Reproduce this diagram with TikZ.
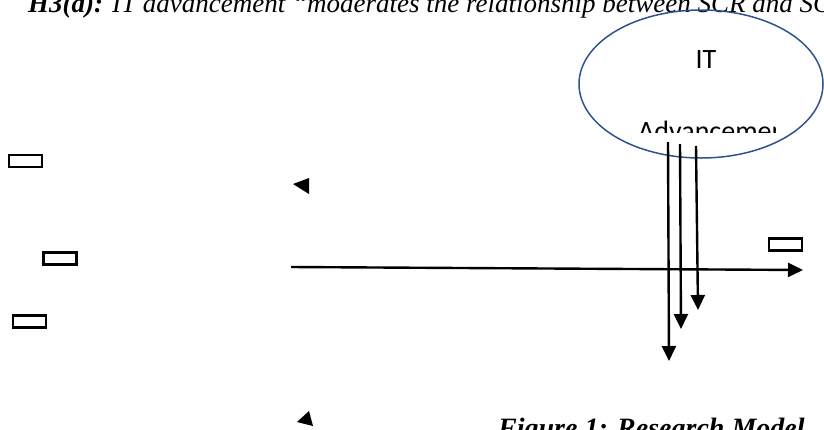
\documentclass[tikz,border=0pt]{standalone}
\usepackage{fontspec}
\setmainfont{Liberation Serif}
\newfontfamily\calib{Carlito}
\usetikzlibrary{arrows.meta,shapes.geometric}
\definecolor{ellblue}{RGB}{47,82,143}
\begin{document}
\begin{tikzpicture}[x=1pt,y=-1pt,
  smallbox/.style={draw=black,line width=2.2pt,minimum width=33pt,minimum height=12pt,inner sep=0pt},
  blk/.style={draw=black,line width=2.4pt,-{Triangle[width=14pt,length=15pt]}},
  lbl/.style={inner sep=0pt,anchor=base west}]
\useasboundingbox (0,0) rectangle (824,429);
\clip (0,0) rectangle (824,429);
% title
\node[lbl,font=\fontsize{27}{30}\selectfont] (title) at (28,12)
  {\textbf{\textit{H3(a):}} \textit{IT advancement “moderates the relationship between SCR and SCP}};
% ellipse
\node[draw=ellblue,line width=1.5pt,ellipse,minimum width=244pt,minimum height=148pt,inner sep=0pt] (it) at (701,84) {};
\node[inner sep=0pt,anchor=base,font=\calib\fontsize{28}{32}\selectfont] (itt) at (706,68) {IT};
\begin{scope}
\clip (630,105) rectangle (775,132);
\node[lbl,font=\calib\fontsize{28}{32}\selectfont] (adv) at (638,140) {Advancement};
\end{scope}
% small boxes
\node[smallbox] (b1) at (25.5,161) {};
\node[smallbox] (b2) at (60,258.5) {};
\node[smallbox] (b3) at (29.5,321.5) {};
\node[smallbox] (b4) at (785.5,244.5) {};
% horizontal arrow
\coordinate (h1) at (291,267);
\coordinate (h2) at (803,270);
\draw[blk] (h1) -- (h2);
% vertical arrows
\coordinate (v1s) at (668,142);
\coordinate (v1e) at (669,361);
\coordinate (v2s) at (680,144);
\coordinate (v2e) at (681,329);
\coordinate (v3s) at (696,146);
\coordinate (v3e) at (698,310);
\draw[blk] (v1s) -- (v1e);
\draw[blk] (v2s) -- (v2e);
\draw[blk] (v3s) -- (v3e);
% stray arrowheads
\fill[black] (293,184) -- (309,178) -- (309,194) -- cycle;
\fill[black] (297,422) -- (309,411) -- (313,426) -- cycle;
% caption
\node[lbl,font=\fontsize{28}{32}\selectfont] (cap) at (498,437) {\textbf{\textit{Figure 1: Research Model}}};
\end{tikzpicture}
\end{document}
